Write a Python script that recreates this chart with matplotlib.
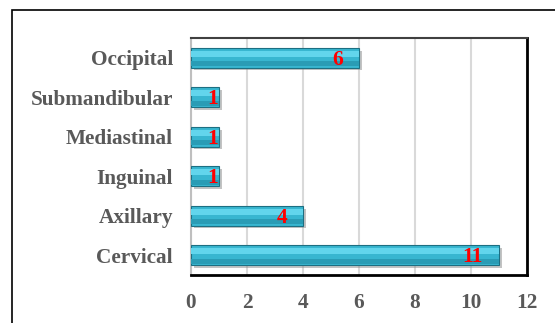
import matplotlib
matplotlib.use("Agg")
import matplotlib.pyplot as plt
import matplotlib.patheffects as pe
from matplotlib.patches import Rectangle

categories = ["Cervical", "Axillary", "Inguinal", "Mediastinal", "Submandibular", "Occipital"]
values = [11, 4, 1, 1, 1, 6]
xticks = [0, 2, 4, 6, 8, 10, 12]

W, H = 555, 323
fig = plt.figure(figsize=(W / 100, H / 100), dpi=100)
fig.patch.set_facecolor("white")

# outer frame
fig.add_artist(Rectangle((12 / W, -0.1), 1.2, (H - 9.5) / H + 0.1, transform=fig.transFigure,
                         fill=False, edgecolor="black", linewidth=1.2))

left, right, top, bottom = 191, 527, 38, 275
ax = fig.add_axes([left / W, 1 - bottom / H, (right - left) / W, (bottom - top) / H])

ypos = list(range(len(categories)))
h = 0.5
ax.barh(ypos, values, height=h, color="#38B6D0", edgecolor="#1D6F82", linewidth=0.8, zorder=3,
        path_effects=[pe.SimplePatchShadow(offset=(2, -2), shadow_rgbFace="#888888", alpha=0.5), pe.Normal()])
ax.barh([y + h * 0.2 for y in ypos], values, height=h * 0.3, color="#62D5EC", linewidth=0, zorder=4)
ax.barh([y - h * 0.3 for y in ypos], values, height=h * 0.25, color="#2A9CB5", linewidth=0, zorder=4)

for y, v in zip(ypos, values):
    xr = v - 0.57 if v >= 2 else v - 0.03
    ax.text(xr, y - 0.05, str(v), ha="right", va="center", color="#FF0000", fontsize=15.5,
            fontweight="bold", family="Liberation Serif", zorder=5)

ax.set_xlim(0, 12)
ax.set_ylim(-0.5, 5.5)
ax.set_xticks(xticks)
ax.set_xticklabels([str(t) for t in xticks])
ax.set_yticks(ypos)
ax.set_yticklabels(categories)
ax.tick_params(length=0)
ax.tick_params(axis="x", pad=13)
ax.tick_params(axis="y", pad=13)
for lab in ax.get_xticklabels() + ax.get_yticklabels():
    lab.set_family("Liberation Serif")
    lab.set_fontweight("bold")
    lab.set_fontsize(15.3)
    lab.set_color("#595959")

ax.grid(axis="x", color="#D9D9D9", linewidth=1.5, zorder=0)
ax.set_axisbelow(True)
ax.spines["left"].set_color("#BFBFBF")
ax.spines["left"].set_linewidth(1.5)
ax.spines["top"].set_color("#404040")
ax.spines["top"].set_linewidth(1.5)
ax.spines["right"].set_color("black")
ax.spines["right"].set_linewidth(2)
ax.spines["bottom"].set_color("black")
ax.spines["bottom"].set_linewidth(2)

fig.savefig("out.png", dpi=100)
